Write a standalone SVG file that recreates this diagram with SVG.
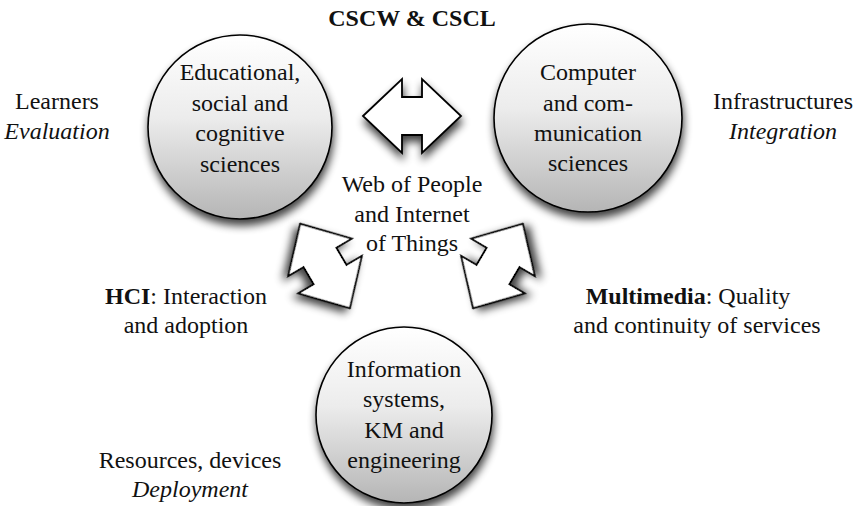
<svg xmlns="http://www.w3.org/2000/svg" width="854" height="506" viewBox="0 0 854 506" font-family="'Liberation Serif', Tinos, 'Times New Roman', 'DejaVu Serif', serif">
<defs>
<linearGradient id="g" x1="0" y1="0" x2="0" y2="1">
<stop offset="0" stop-color="#ffffff"/>
<stop offset="0.45" stop-color="#ececec"/>
<stop offset="1" stop-color="#b5b5b5"/>
</linearGradient>
<filter id="sh" x="-30%" y="-30%" width="160%" height="170%">
<feGaussianBlur in="SourceAlpha" stdDeviation="4"/>
<feOffset dx="1" dy="6" result="b"/>
<feComponentTransfer><feFuncA type="linear" slope="0.75"/></feComponentTransfer>
<feMerge><feMergeNode/><feMergeNode in="SourceGraphic"/></feMerge>
</filter>
<path id="dbl" d="M-49,0 L-10,-37 L-10,-19 L10,-19 L10,-37 L49,0 L10,37 L10,19 L-10,19 L-10,37 Z"/>
<style>
text{font-family:'Liberation Serif',Tinos,'Times New Roman','DejaVu Serif',serif;font-size:24px;fill:#111;text-anchor:middle}
.b{font-weight:bold}
.i{font-style:italic}
.node circle{fill:url(#g);stroke:#000;stroke-width:1.6;filter:url(#sh)}
.arr use{fill:#fff;stroke:#000;stroke-width:1.8;stroke-linejoin:miter;filter:url(#sh)}
</style>
</defs>
<rect width="854" height="506" fill="#fff"/>

<g id="connectors" class="arr">
<use href="#dbl" transform="translate(412,116)"/>
<use href="#dbl" transform="translate(325,266) rotate(59.5)"/>
<use href="#dbl" transform="translate(498,266) rotate(-59.5)"/>
</g>

<g id="node-educational" class="node">
<circle cx="240" cy="127" r="92"/>
<text x="240" y="80">Educational,</text>
<text x="240" y="111">social and</text>
<text x="240" y="141">cognitive</text>
<text x="240" y="172">sciences</text>
</g>

<g id="node-computer" class="node">
<circle cx="588" cy="118" r="94"/>
<text x="588" y="80">Computer</text>
<text x="588" y="111">and com-</text>
<text x="588" y="141">munication</text>
<text x="588" y="171">sciences</text>
</g>

<g id="node-information" class="node">
<circle cx="404" cy="415" r="88"/>
<text x="404" y="377">Information</text>
<text x="404" y="407">systems,</text>
<text x="404" y="438">KM and</text>
<text x="404" y="468">engineering</text>
</g>

<g id="labels">
<text class="b" x="412" y="26">CSCW &amp; CSCL</text>
<text x="57" y="109">Learners</text>
<text class="i" x="57" y="139">Evaluation</text>
<text x="783" y="109">Infrastructures</text>
<text class="i" x="783" y="139">Integration</text>
<text x="412" y="192">Web of People</text>
<text x="412" y="222">and Internet</text>
<text x="412" y="251">of Things</text>
<text x="186" y="304"><tspan class="b">HCI</tspan>: Interaction</text>
<text x="186" y="333">and adoption</text>
<text x="688" y="304"><tspan class="b">Multimedia</tspan>: Quality</text>
<text x="697" y="333">and continuity of services</text>
<text x="190" y="468">Resources, devices</text>
<text class="i" x="190" y="497">Deployment</text>
</g>
</svg>
